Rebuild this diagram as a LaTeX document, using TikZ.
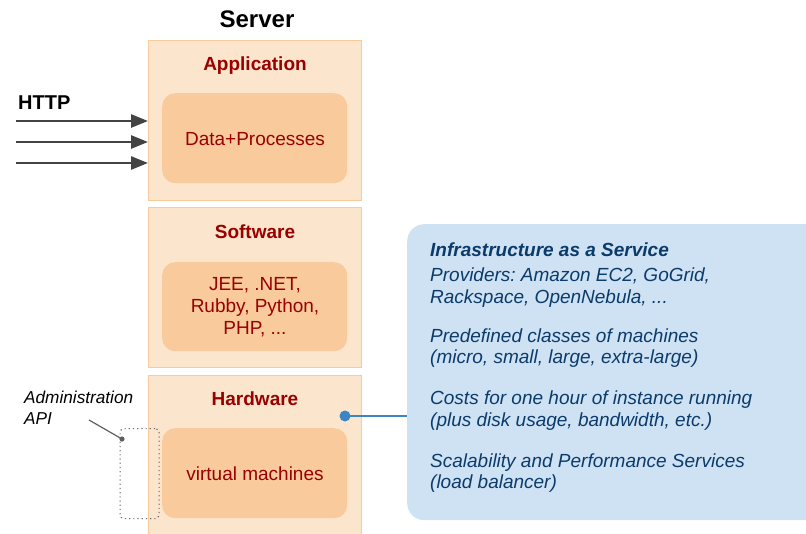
\documentclass[tikz,border=0pt]{standalone}
\usepackage{fontspec}
\setmainfont{Liberation Sans}
\usetikzlibrary{arrows.meta}
\frenchspacing
\definecolor{lorange}{HTML}{FCE5CD}
\definecolor{morange}{HTML}{F9CB9C}
\definecolor{dred}{HTML}{990000}
\definecolor{lblue}{HTML}{CFE2F3}
\definecolor{mblue}{HTML}{3D85C6}
\definecolor{dblue}{HTML}{0B3B6B}
\definecolor{dgray}{HTML}{434343}
\tikzset{
  layer/.style={draw=morange, line width=1pt, fill=lorange},
  inner/.style={fill=morange, rounded corners=13pt},
  ttl/.style={anchor=base, inner sep=0pt, text=dred, font=\fontsize{19}{22}\selectfont\bfseries},
  itxt/.style={anchor=base, inner sep=0pt, text=dred, font=\fontsize{19}{22}\selectfont},
  btxt/.style={anchor=base west, inner sep=0pt, text=dblue, font=\fontsize{19}{22}\selectfont\itshape},
  admtxt/.style={anchor=base west, inner sep=0pt, font=\fontsize{17.2}{20}\selectfont\itshape},
  http/.style={draw=dgray, line width=2.7pt, -{Triangle[length=17pt,width=13pt]}},
}
\begin{document}
\begin{tikzpicture}[x=1pt,y=-1pt]
\useasboundingbox (0,0) rectangle (806,533);
% blue box
\node[draw=none, fill=lblue, rounded corners=17pt, minimum width=420pt, minimum height=296pt, anchor=north west, inner sep=0pt] (iaas) at (407,224) {};
% outer layers
\node[layer, anchor=north west, minimum width=213pt, minimum height=160pt, inner sep=0pt] (app) at (148,40) {};
\node[layer, anchor=north west, minimum width=213pt, minimum height=160pt, inner sep=0pt] (soft) at (148,207) {};
\node[layer, anchor=north west, minimum width=213pt, minimum height=170pt, inner sep=0pt] (hard) at (148,375) {};
% inner boxes
\node[inner, anchor=north west, minimum width=185pt, minimum height=90pt, inner sep=0pt] (dp) at (162,93) {};
\node[inner, anchor=north west, minimum width=185pt, minimum height=89pt, inner sep=0pt] (sw) at (162,262) {};
\node[inner, anchor=north west, minimum width=185pt, minimum height=90pt, inner sep=0pt] (vm) at (162,428) {};
% dotted admin box
\node[draw=dgray!80, dash pattern=on 1.2pt off 3pt, line width=1.2pt, rounded corners=4pt, anchor=north west, minimum width=39pt, minimum height=90pt, inner sep=0pt] (adm) at (119.5,428) {};
% titles
\node[anchor=base, inner sep=0pt, font=\fontsize{24}{28}\selectfont\bfseries] (server) at (257,27) {Server};
\node[ttl] (tapp) at (255,70) {Application};
\node[ttl] (tsoft) at (255,238) {Software};
\node[ttl] (thard) at (255,405) {Hardware};
\node[itxt] (tdp) at (255,145) {Data+Processes};
\node[itxt] (tsw1) at (255,290) {JEE, .NET,};
\node[itxt] (tsw2) at (255,312) {Rubby, Python,};
\node[itxt] (tsw3) at (255,334) {PHP, ...};
\node[itxt] (tvm) at (255,480) {virtual machines};
% HTTP
\node[anchor=base west, inner sep=0pt, font=\fontsize{20}{24}\selectfont\bfseries] (http) at (18,109) {HTTP};
\coordinate (h1s) at (16,121); \coordinate (h1e) at (148,121);
\coordinate (h2s) at (16,142); \coordinate (h2e) at (148,142);
\coordinate (h3s) at (16,163); \coordinate (h3e) at (148,163);
\draw[http] (h1s) -- (h1e);
\draw[http] (h2s) -- (h2e);
\draw[http] (h3s) -- (h3e);
% Administration API
\node[admtxt] (adm1) at (24,403) {Administration};
\node[admtxt] (adm2) at (24,424) {API};
\coordinate (admline) at (89,420);
\coordinate (admdot) at (122,439);
\draw[dgray!85, line width=1.2pt] (admline) -- (admdot);
\fill[dgray!85] (admdot) circle (2.6pt);
% connector
\coordinate (hdot) at (345,416);
\draw[mblue, line width=2.5pt] (hdot) -- (iaas.west |- hdot);
\fill[mblue] (hdot) circle (5.5pt);
% IaaS text
\node[btxt, font=\fontsize{19}{22}\selectfont\bfseries\itshape] (b0) at (430,256) {Infrastructure as a Service};
\node[btxt] (b1) at (430,281) {Providers: Amazon EC2, GoGrid,};
\node[btxt] (b2) at (430,303) {Rackspace, OpenNebula, ...};
\node[btxt] (b3) at (430,342) {Predefined classes of machines};
\node[btxt] (b4) at (430,363) {(micro, small, large, extra-large)};
\node[btxt] (b5) at (430,404) {Costs for one hour of instance running};
\node[btxt] (b6) at (430,426) {(plus disk usage, bandwidth, etc.)};
\node[btxt] (b7) at (430,467) {Scalability and Performance Services};
\node[btxt] (b8) at (430,488) {(load balancer)};
\end{tikzpicture}
\end{document}
